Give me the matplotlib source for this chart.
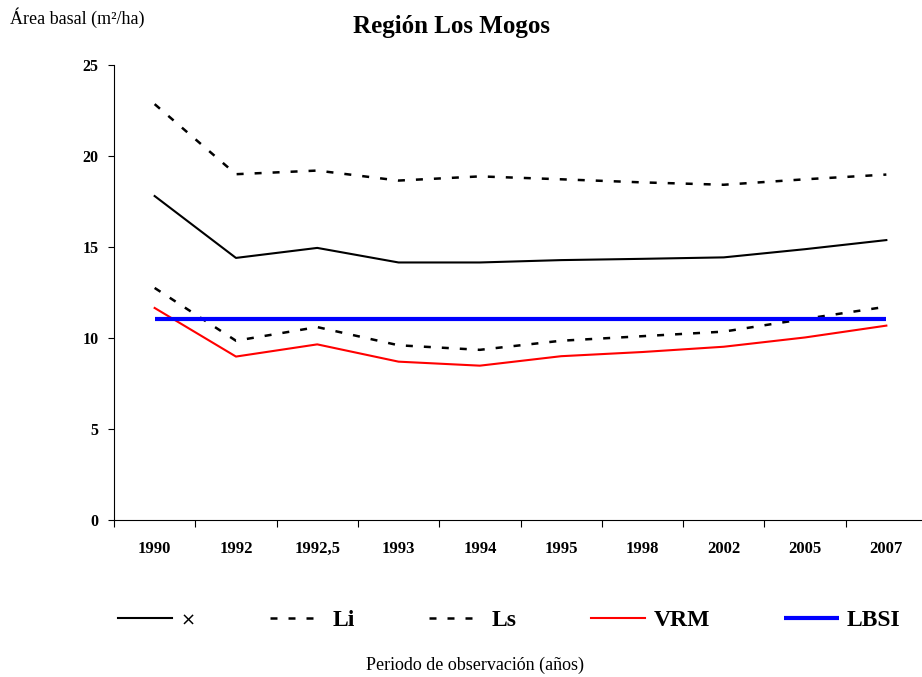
import numpy as np
import matplotlib
matplotlib.use('Agg')
import matplotlib.pyplot as plt
from matplotlib.ticker import FixedLocator, NullFormatter

plt.rcParams['font.family'] = ['Liberation Serif', 'DejaVu Serif']

# data
periodos = ['1990', '1992', '1992,5', '1993', '1994', '1995', '1998', '2002', '2005', '2007']
media = [17.8, 14.4, 14.95, 14.15, 14.15, 14.28, 14.35, 14.43, 14.88, 15.38]
li = [12.75, 9.85, 10.6, 9.6, 9.35, 9.85, 10.1, 10.35, 11.05, 11.72]
ls = [22.85, 19.0, 19.2, 18.65, 18.88, 18.72, 18.55, 18.42, 18.72, 18.98]
vrm = [11.65, 8.98, 9.65, 8.7, 8.48, 9.0, 9.23, 9.52, 10.03, 10.68]
lbsi = [11.05] * len(periodos)

fig = plt.figure(figsize=(9.22, 6.77), dpi=100)
ax = fig.add_axes([114/922, 1-520/677, 813/922, 455/677])

x = np.arange(len(periodos))
dash = (0, (2.8, 4.4))
ax.plot(x, media, color='black', lw=1.5, label='×')
ax.plot(x, li, color='black', lw=1.8, linestyle=dash, label='Li')
ax.plot(x, ls, color='black', lw=1.8, linestyle=dash, label='Ls')
ax.plot(x, vrm, color='#ff0000', lw=1.5, label='VRM')
ax.plot(x, lbsi, color='#0000ff', lw=3.0, label='LBSI', solid_capstyle='butt')

ax.set_xlim(-0.5, len(periodos) - 0.5)
ax.set_ylim(0, 25)
ax.set_yticks([0, 5, 10, 15, 20, 25])
ax.tick_params(axis='y', direction='out', length=4, width=0.8, pad=7, labelsize=11.5)
for t in ax.get_yticklabels():
    t.set_fontweight('bold')

# category boundaries as tick marks, labels centred on categories
ax.xaxis.set_major_locator(FixedLocator(np.arange(-0.5, len(periodos), 1.0)))
ax.xaxis.set_major_formatter(NullFormatter())
ax.set_xticks(x, minor=True)
ax.set_xticklabels(periodos, minor=True, fontweight='bold', fontsize=12)
ax.tick_params(axis='x', which='major', direction='out', length=5, width=0.8)
ax.tick_params(axis='x', which='minor', length=0, pad=15)

for s in ['top', 'right']:
    ax.spines[s].set_visible(False)
ax.spines['left'].set_linewidth(0.8)
ax.spines['bottom'].set_linewidth(0.8)

fig.text(451/922, 1-27/677, 'Región Los Mogos', ha='center', va='center',
         fontsize=18, fontweight='bold')
fig.text(10/922, 1-18/677, 'Área basal (m²/ha)', ha='left', va='center', fontsize=13)
fig.text(475/922, 1-665/677, 'Periodo de observación (años)', ha='center', va='center', fontsize=13)

leg = fig.legend(loc='center', bbox_to_anchor=(509/922, 1-620/677), ncol=5,
                 frameon=False, prop={'size': 17, 'weight': 'bold'},
                 handlelength=2.3, handletextpad=0.35, columnspacing=3.15)
leg.get_texts()[0].set_fontproperties({'family': 'DejaVu Sans', 'size': 13, 'weight': 'normal'})

fig.savefig('out.png', dpi=100)
